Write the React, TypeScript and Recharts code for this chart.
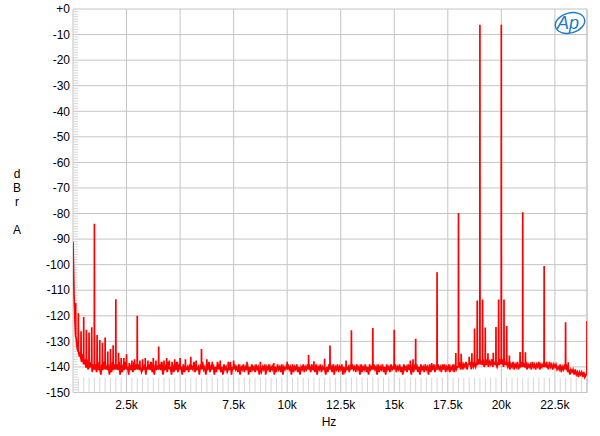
import { LineChart, Line, XAxis, YAxis, CartesianGrid, ReferenceLine } from 'recharts';

// noise floor, one value every 50 Hz from 0 to 24 kHz (dBr A), one row per kHz
const floorStepHz = 50;
const floorDb = [
  -91, -112, -124, -129, -133, -131, -136, -134, -138, -135, -139, -137, -140, -137, -141, -138, -140, -138, -142, -139,
  -141, -139, -142, -138, -141, -140, -143, -139, -141, -138, -142, -140, -141, -139, -143, -140, -142, -138, -141, -139,
  -142, -139, -141, -138, -143, -140, -142, -139, -141, -138, -142, -140, -143, -139, -141, -140, -142, -138, -141, -139,
  -143, -139, -141, -140, -142, -138, -141, -139, -143, -140, -142, -139, -141, -138, -142, -140, -143, -139, -141, -140,
  -142, -139, -141, -138, -143, -140, -141, -139, -142, -138, -141, -140, -143, -139, -142, -140, -141, -138, -142, -139,
  -141, -140, -143, -139, -142, -138, -141, -140, -142, -139, -143, -140, -141, -138, -142, -139, -141, -140, -143, -139,
  -142, -138, -141, -140, -143, -139, -141, -138, -142, -140, -141, -139, -143, -140, -142, -138, -141, -139, -142, -140,
  -143, -139, -141, -140, -142, -139, -141, -138, -143, -140, -142, -139, -141, -140, -142, -139, -143, -140, -141, -139,
  -142, -140, -141, -139, -143, -140, -142, -139, -141, -140, -142, -139, -141, -140, -143, -139, -142, -140, -141, -139,
  -143, -140, -141, -139, -142, -140, -141, -139, -143, -140, -142, -139, -141, -140, -142, -139, -143, -140, -141, -140,
  -142, -139, -141, -140, -143, -139, -142, -140, -141, -139, -142, -140, -143, -140, -141, -139, -142, -140, -141, -139,
  -143, -140, -142, -139, -141, -140, -142, -139, -143, -140, -141, -139, -142, -140, -141, -139, -143, -140, -142, -139,
  -141, -140, -142, -139, -143, -140, -141, -139, -142, -140, -141, -139, -143, -140, -142, -139, -141, -140, -142, -139,
  -143, -139, -141, -140, -142, -139, -141, -140, -143, -139, -142, -140, -141, -139, -142, -140, -143, -139, -141, -140,
  -142, -139, -141, -140, -143, -139, -142, -140, -141, -139, -142, -140, -143, -139, -141, -140, -142, -139, -141, -140,
  -143, -139, -142, -140, -141, -139, -142, -140, -143, -139, -141, -140, -142, -139, -141, -140, -143, -139, -142, -140,
  -141, -139, -142, -140, -143, -139, -141, -140, -142, -139, -141, -140, -143, -139, -142, -140, -141, -139, -142, -140,
  -142, -139, -141, -140, -142, -139, -141, -139, -142, -140, -141, -139, -142, -140, -141, -139, -142, -139, -141, -140,
  -141, -139, -141, -138, -141, -139, -140, -138, -141, -139, -140, -138, -141, -138, -140, -137, -140, -138, -139, -137,
  -140, -138, -139, -137, -140, -138, -139, -137, -140, -138, -139, -137, -140, -138, -139, -137, -140, -138, -139, -137,
  -139, -137, -140, -138, -139, -137, -140, -138, -141, -139, -140, -138, -141, -139, -140, -138, -141, -139, -140, -138,
  -141, -139, -140, -138, -141, -139, -140, -139, -141, -138, -140, -139, -141, -139, -140, -138, -141, -139, -140, -139,
  -141, -139, -140, -139, -141, -138, -140, -139, -141, -139, -140, -139, -141, -140, -141, -139, -142, -140, -141, -139,
  -142, -140, -142, -141, -143, -141, -142, -141, -143, -141, -143, -142, -144, -142, -143, -142, -144, -142, -144, -143,
  -143,
];

// tones, harmonics and IMD products: [Hz, peak dBr, floor under the spike dBr]
const spikes: [number, number, number][] = [
  [125, -115, -128], [250, -119, -134], [375, -126, -137], [500, -120.5, -139], [625, -125.5, -140],
  [750, -126.5, -140], [875, -124.5, -140], [1000, -84, -141], [1125, -127.5, -141], [1250, -129.5, -141],
  [1375, -130.5, -141], [1500, -128.5, -141], [1625, -134, -141], [1750, -133, -141], [1875, -131.5, -141],
  [2000, -113.5, -141], [2125, -134.5, -141], [2250, -136.5, -141], [2375, -136.5, -141], [2500, -135, -141],
  [2625, -138.5, -141], [2750, -137.5, -141], [2875, -137, -141], [3000, -120, -141], [3125, -137.5, -141],
  [3250, -137, -141], [3375, -136.5, -141], [3500, -137.5, -141], [3625, -138, -141], [3750, -136.5, -141],
  [3875, -137.5, -141], [4000, -132, -141], [4125, -138, -141], [4250, -137.5, -141], [4375, -136.5, -141],
  [4500, -137.5, -141], [4625, -138, -141], [4750, -137, -141], [4875, -138, -141], [5000, -136.5, -141],
  [5250, -137, -141], [5500, -136, -141], [5750, -137.5, -141], [6000, -133, -141], [6250, -137, -141],
  [6500, -138, -141], [6875, -137.5, -141], [7250, -138, -141], [7500, -137.5, -141], [8125, -138, -141],
  [8750, -138, -141], [9375, -138.5, -141], [10000, -138, -141], [11000, -135.3, -141], [11250, -137.8, -141],
  [11750, -136.8, -141], [12000, -131.6, -141], [12750, -137.5, -141], [13000, -125.7, -141],
  [14000, -124.8, -141], [15000, -125.5, -141], [15750, -137.5, -141], [15875, -137, -141], [16000, -129, -141],
  [16750, -138.5, -141], [17000, -103, -141], [17875, -134.6, -140], [18000, -79.8, -140], [18125, -134.8, -140],
  [18500, -136, -139], [18625, -134.7, -139], [18750, -125, -139], [18875, -114, -139], [19000, -6.2, -139],
  [19125, -113.6, -139], [19250, -124.6, -139], [19375, -134.7, -139], [19625, -134.5, -139],
  [19750, -124.4, -139], [19875, -113.6, -139], [20000, -6.2, -139], [20125, -113.6, -139], [20250, -124, -139],
  [20375, -135.5, -139], [20875, -134.2, -140], [21000, -79.5, -140], [21125, -134.3, -140],
  [22000, -100.5, -140], [22125, -138, -140], [23000, -122.5, -141], [23125, -138.2, -141], [24000, -122, -143],
];

const xTicks = [0, 2500, 5000, 7500, 10000, 12500, 15000, 17500, 20000, 22500];
const yTicks = [0, -10, -20, -30, -40, -50, -60, -70, -80, -90, -100, -110, -120, -130, -140, -150];

const merged = new Map<number, number>();
floorDb.forEach((db, i) => merged.set(i * floorStepHz, db));
spikes.forEach(([hz, peak, base]) => {
  merged.set(hz - 6, base);
  merged.set(hz, peak);
  if (hz < 24000) merged.set(hz + 6, base);
});
const data = [...merged.entries()].sort((a, b) => a[0] - b[0]).map(([hz, db]) => ({ hz, db }));

const xMinor: number[] = [];
for (let f = 250; f < 24000; f += 250) if (f % 2500 !== 0) xMinor.push(f);
const yMinor: number[] = [];
for (let v = -149; v < 0; v++) if (v % 10 !== 0) yMinor.push(v);

const font = '"Liberation Sans", Arial, sans-serif';

function ApLogo() {
  return (
    <svg width={36} height={26} style={{ position: 'absolute', left: 551, top: 10 }}>
      <ellipse cx={19} cy={13} rx={15} ry={10} fill="none" stroke="#1f7cc4" strokeWidth={1.4} transform="rotate(-15 19 13)" />
      <text x={17} y={19} textAnchor="middle" fontFamily={font} fontStyle="italic" fontSize={18} fill="#1f7cc4">
        Ap
      </text>
    </svg>
  );
}

export default function App() {
  return (
    <div style={{ position: 'absolute', left: 0, top: 0, width: 600, height: 436, background: '#fff', fontFamily: font }}>
      <LineChart width={600} height={436} data={data} margin={{ top: 9, right: 13, bottom: 0, left: 0 }}>
        <CartesianGrid stroke="#c4c4c4" horizontal vertical />
        <XAxis
          type="number"
          dataKey="hz"
          domain={[0, 24000]}
          ticks={xTicks}
          allowDataOverflow
          height={43.5}
          tickFormatter={(v: number) => (v === 0 ? '' : `${v / 1000}k`)}
          tick={{ fontSize: 12, fill: '#000', fontFamily: font }}
          axisLine={false}
          tickLine={false}
          tickSize={6}
        />
        <YAxis
          type="number"
          domain={[-150, 0]}
          ticks={yTicks}
          allowDataOverflow
          width={73}
          tickFormatter={(v: number) => (v === 0 ? '+0' : String(v))}
          tick={{ fontSize: 12, fill: '#000', fontFamily: font }}
          axisLine={false}
          tickLine={false}
          tickSize={0}
          tickMargin={3}
        />
        <ReferenceLine x={24000} stroke="#c4c4c4" />
        {xMinor.map((f) => (
          <ReferenceLine key={`xm${f}`} segment={[{ x: f, y: -150 }, { x: f, y: -144.2 }]} stroke="#d6d6d6" />
        ))}
        {yMinor.map((v) => (
          <ReferenceLine key={`ym${v}`} segment={[{ x: 0, y: v }, { x: 230, y: v }]} stroke="#d6d6d6" />
        ))}
        <Line type="linear" dataKey="db" stroke="#ff0000" strokeWidth={1.7} dot={false} isAnimationActive={false} />
      </LineChart>
      <div style={{ position: 'absolute', left: 7, top: 167, width: 20, textAlign: 'center', fontSize: 12, lineHeight: '14px', color: '#000' }}>
        d<br />B<br />r<br /><br />A
      </div>
      <div style={{ position: 'absolute', left: 309, top: 415, width: 40, textAlign: 'center', fontSize: 12, lineHeight: '14px', color: '#000' }}>
        Hz
      </div>
      <ApLogo />
    </div>
  );
}
